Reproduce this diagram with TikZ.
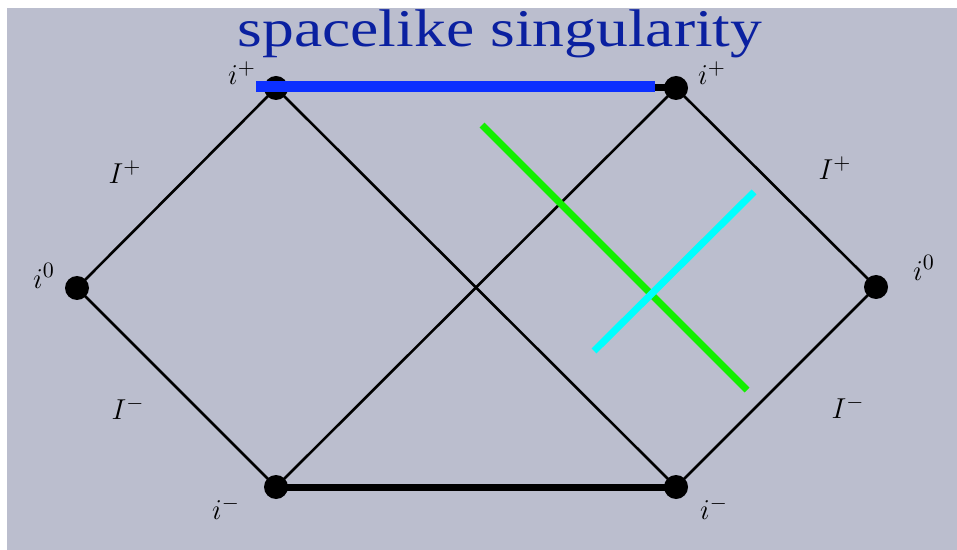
\documentclass[tikz,border=0pt]{standalone}
\usepackage{fontspec}
\setmainfont{Liberation Serif}
\usepackage{tikz}
\usetikzlibrary{positioning}

\definecolor{panel}{RGB}{187,190,206}
\definecolor{singblue}{RGB}{12,48,255}
\definecolor{titleblue}{RGB}{10,32,160}
\definecolor{rayg}{RGB}{20,238,0}
\definecolor{rayc}{RGB}{0,255,255}

\begin{document}
\begin{tikzpicture}[
    x=0.5pt, y=-0.5pt,
    dot/.style={circle, fill=black, inner sep=0pt, minimum size=12pt},
    lbl/.style={font=\fontsize{15}{18}\selectfont, inner sep=0pt},
    edge/.style={line width=1.3pt, black},
    ray/.style={line width=3.5pt}
]
\fill[white] (0,0) rectangle (957,550);
\useasboundingbox (0,0) rectangle (957,550);
\fill[panel] (7,8) rectangle (957,550);

% corners of the diagram
\node[dot] (izL) at (77,288) {};
\node[dot] (ipL) at (276,88) {};
\node[dot] (ipR) at (676,88) {};
\node[dot] (izR) at (876,287) {};
\node[dot] (imL) at (276,487) {};
\node[dot] (imR) at (676,487) {};

\draw[edge] (izL.center) -- (ipL.center);
\draw[edge] (izL.center) -- (imL.center);
\draw[edge] (ipL.center) -- (imR.center);
\draw[edge] (imL.center) -- (ipR.center);
\draw[edge] (ipR.center) -- (izR.center);
\draw[edge] (izR.center) -- (imR.center);
\draw[line width=3.5pt] (imL.center) -- (imR.center);
\draw[line width=3.5pt] (ipL.center) -- (ipR.center);

% labels
\node[lbl] (scrLp) at (125,172) {$I^+$};
\node[lbl] (scrLm) at (128,408) {$I^-$};
\node[lbl] (scrRp) at (835,168) {$I^+$};
\node[lbl] (scrRm) at (848,407) {$I^-$};
\node[lbl] (lzL) at (44,276) {$i^0$};
\node[lbl] (lzR) at (924,268) {$i^0$};
\node[lbl] (lmL) at (226,508) {$i^-$};
\node[lbl] (lmR) at (714,508) {$i^-$};
\node[lbl] (lpL) at (242,73) {$i^+$};
\node[lbl] (lpR) at (712,73) {$i^+$};

% singularity and rays
\coordinate (sgL) at (256,87);
\coordinate (sgR) at (655,87);
\draw[line width=5.5pt, singblue] (sgL) -- (sgR);

\coordinate (gA) at (482,125);
\coordinate (gB) at (747,390);
\coordinate (cA) at (594,351);
\coordinate (cB) at (754,192);
\draw[ray, rayg] (gA) -- (gB);
\draw[ray, rayc] (cA) -- (cB);

\node[anchor=base, inner sep=0pt, text=titleblue, font=\fontsize{26.5}{30}\selectfont] (title) at (500,47) {\scalebox{1.2}[1]{spacelike singularity}};
\end{tikzpicture}
\end{document}
